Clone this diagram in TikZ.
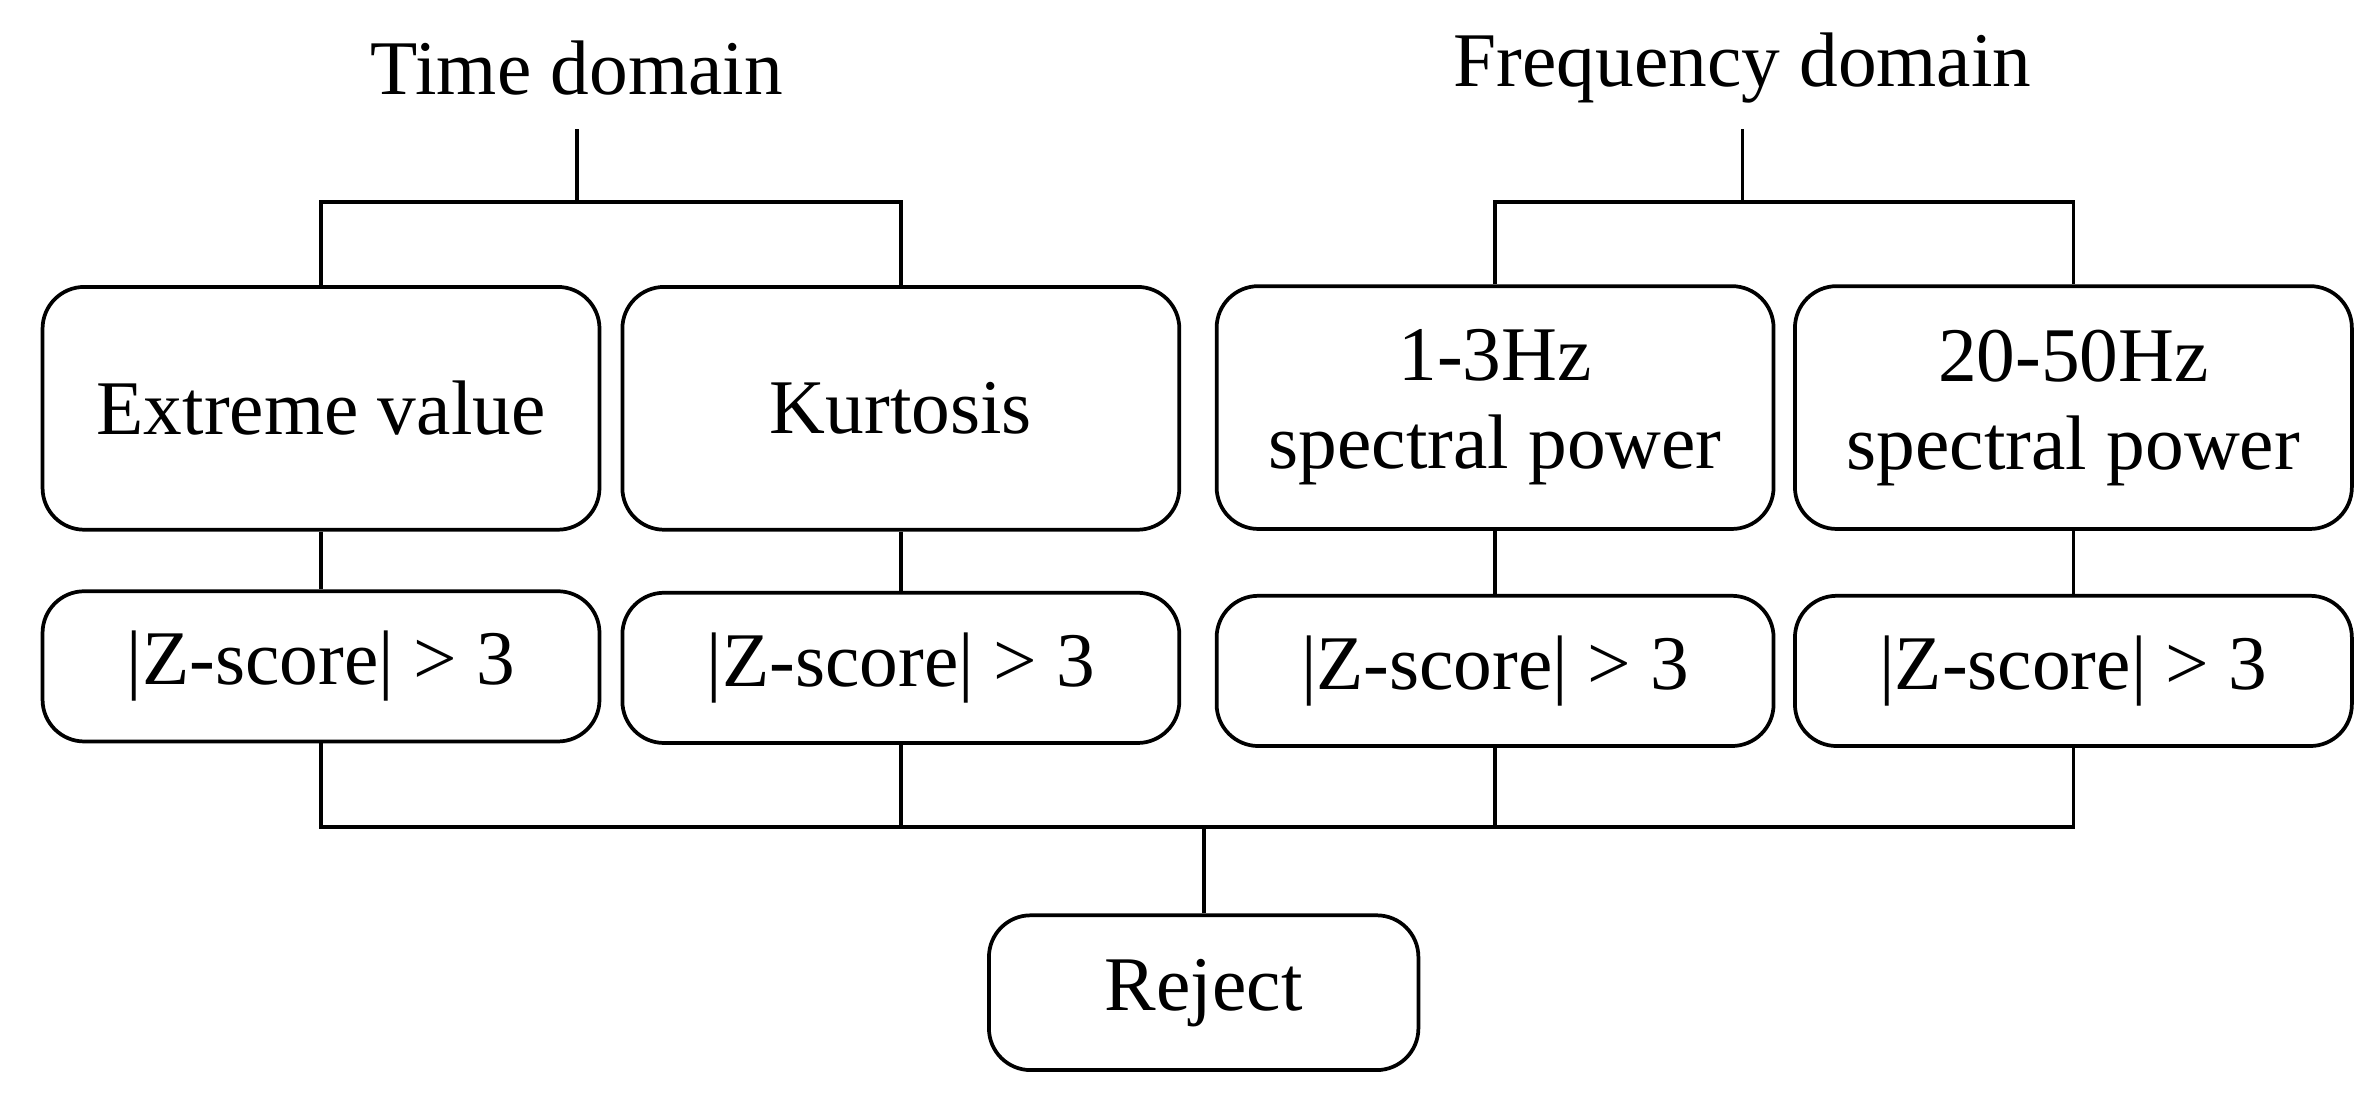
\documentclass[tikz,border=0pt]{standalone}
\usepackage{fontspec}
\setmainfont{Liberation Serif}
\begin{document}
\begin{tikzpicture}[x=0.02cm,y=-0.02cm,
  box/.style={draw,line width=1.4pt,rounded corners=0.55cm,align=center,font=\fontsize{29}{33}\selectfont,inner sep=0pt,minimum width=7.34cm},
  big/.style={box,minimum height=3.2cm},
  zs/.style={box,minimum height=1.98cm},
  lab/.style={font=\fontsize{29}{33}\selectfont,inner sep=0pt},
  ln/.style={line width=1.4pt}]
\useasboundingbox (0,0) rectangle (1568,725);
\node[lab] (td) at (380,45) {Time domain};
\node[lab] (fd) at (1148,45) {Frequency domain};
\node[big] (b1) at (211.5,269) {Extreme value};
\node[big] (b2) at (593.5,269) {Kurtosis};
\node[big] (b3) at (985,268.5) {1-3Hz\\spectral power};
\node[big] (b4) at (1366,268.5) {20-50Hz\\spectral power};
\node[zs] (z1) at (211.5,439) {|Z-score| > 3};
\node[zs] (z2) at (593.5,440) {|Z-score| > 3};
\node[zs] (z3) at (985,442) {|Z-score| > 3};
\node[zs] (z4) at (1366,442) {|Z-score| > 3};
\node[box,minimum width=5.66cm,minimum height=2.04cm] (rj) at (793,654) {Reject};
\coordinate (t0) at (380,85);
\coordinate (tj) at (380,133);
\coordinate (f0) at (1148,85);
\coordinate (fj) at (1148,133);
\coordinate (rjj) at (793,545);
\draw[ln] (t0) -- (tj);
\draw[ln] (b1.north) |- (tj) -| (b2.north);
\draw[ln] (f0) -- (fj);
\draw[ln] (b3.north) |- (fj) -| (b4.north);
\draw[ln] (b1) -- (z1);
\draw[ln] (b2) -- (z2);
\draw[ln] (b3) -- (z3);
\draw[ln] (b4) -- (z4);
\draw[ln] (z1.south) |- (rjj) -| (z4.south);
\draw[ln] (z2.south) |- (rjj);
\draw[ln] (z3.south) |- (rjj);
\draw[ln] (rjj) -- (rj.north);
\end{tikzpicture}
\end{document}
